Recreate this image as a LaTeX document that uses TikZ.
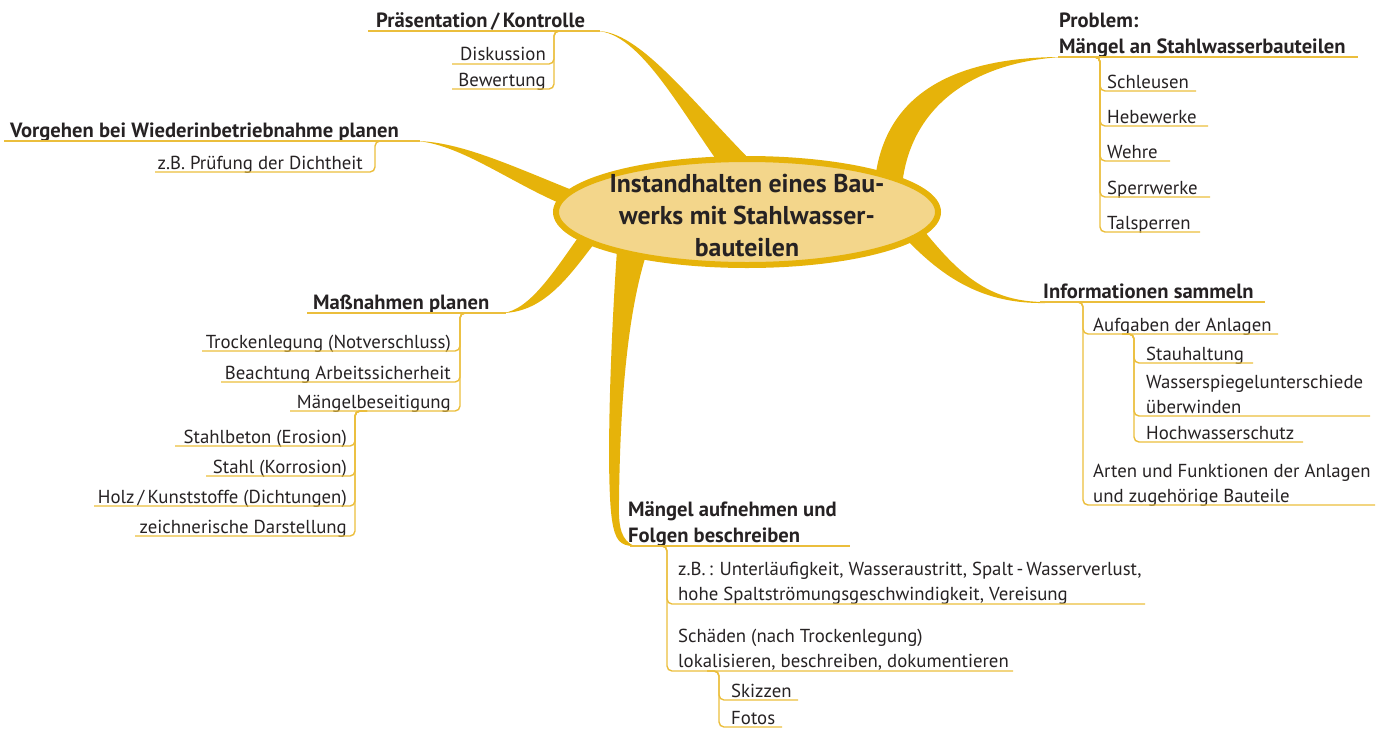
\documentclass[tikz,border=0pt]{standalone}
\usepackage{fontspec}
\newfontfamily\mapfont{PT Sans}
\definecolor{limb}{HTML}{E6B30A}
\definecolor{corefill}{HTML}{F3D68B}
\definecolor{twig}{HTML}{EBBE3C}
\definecolor{ink}{HTML}{262223}
\newcommand\leaffont{\mapfont\fontsize{18.8}{25}\selectfont}
\newcommand\headfont{\mapfont\bfseries\fontsize{20.6}{25}\selectfont}
\newcommand\corefont{\mapfont\bfseries\fontsize{25.8}{32}\selectfont}
\tikzset{
  twig/.style={draw=twig, line width=1.4pt, rounded corners=5pt},
  limb/.style={fill=limb, draw=none},
  leaf/.style={font=\leaffont, text=ink, inner sep=0pt},
  head/.style={font=\headfont, text=ink, inner sep=0pt},
}
\begin{document}
\begin{tikzpicture}[x=1pt, y=-1pt]
\useasboundingbox (0,0) rectangle (1381,729);

% ---------- tapered main branches ----------
% Praesentation / Kontrolle
\fill[limb] (597,31) .. controls (640,31) and (690,100) .. (760,170)
  -- (725,172) .. controls (680,110) and (640,33) .. (597,31) -- cycle;
% Vorgehen bei Wiederinbetriebnahme
\fill[limb] (417,141) .. controls (460,142) and (510,165) .. (572,190)
  -- (577,210) .. controls (520,190) and (465,145) .. (417,141) -- cycle;
% Massnahmen planen
\fill[limb] (503,313) .. controls (530,310) and (555,270) .. (582,232)
  -- (597,240) .. controls (570,275) and (545,312) .. (503,313) -- cycle;
% Maengel aufnehmen
\fill[limb] (617,250) .. controls (610,350) and (606,480) .. (612,520)
  .. controls (615,540) and (620,546) .. (634,546)
  .. controls (622,540) and (618,530) .. (619,500)
  .. controls (620,420) and (625,320) .. (647,252) -- cycle;
% Problem
\fill[limb] (875,180) .. controls (885,90) and (960,57) .. (1062,57)
  .. controls (975,62) and (910,105) .. (902,186) -- cycle;
% Informationen sammeln
\fill[limb] (925,232) .. controls (960,275) and (990,302) .. (1045,302)
  -- (1045,303) .. controls (985,304) and (945,280) .. (905,238) -- cycle;

% ---------- centre ----------
\fill[corefill, draw=limb, line width=6pt] (747,212) ellipse [x radius=191, y radius=53];
\node[font=\corefont, text=ink, align=center, inner sep=0pt] (core) at (747,216)
  {Instandhalten eines Bau-\\werks mit Stahlwasser-\\bauteilen};

% ---------- Praesentation / Kontrolle ----------
\node[head, anchor=base west] (praes) at (376,27) {Präsentation\,/\,Kontrolle};
\draw[twig] (368,31) -- (600,31);
\node[leaf, anchor=base east] (disk) at (546,60) {Diskussion};
\node[leaf, anchor=base east] (bew) at (546,86) {Bewertung};
\draw[twig] (452,64) -- (554,64) -- (554,31) -- (566,31);
\draw[twig] (452,89) -- (554,89) -- (554,31) -- (566,31);

% ---------- Vorgehen bei Wiederinbetriebnahme planen ----------
\node[head, anchor=base west] (vorg) at (10,137) {Vorgehen bei Wiederinbetriebnahme planen};
\draw[twig] (4,141) -- (420,141);
\node[leaf, anchor=base east] (pruef) at (363,169) {z.B. Prüfung der Dichtheit};
\draw[twig] (155,172) -- (375,172) -- (375,141) -- (388,141);

% ---------- Massnahmen planen ----------
\node[head, anchor=base west] (mass) at (313,309) {Maßnahmen planen};
\draw[twig] (307,313) -- (506,313);
\node[leaf, anchor=base east] (trock) at (451,348) {Trockenlegung (Notverschluss)};
\node[leaf, anchor=base east] (arbeit) at (451,379) {Beachtung Arbeitssicherheit};
\node[leaf, anchor=base east] (beseit) at (451,408) {Mängelbeseitigung};
\draw[twig] (202,351) -- (460,351) -- (460,313) -- (472,313);
\draw[twig] (221,382) -- (460,382) -- (460,313) -- (472,313);
\draw[twig] (290,411) -- (460,411) -- (460,313) -- (472,313);
\node[leaf, anchor=base east] (beton) at (347,443) {Stahlbeton (Erosion)};
\node[leaf, anchor=base east] (stahl) at (347,473) {Stahl (Korrosion)};
\node[leaf, anchor=base east] (holz) at (347,503) {Holz\,/\,Kunststoffe (Dichtungen)};
\node[leaf, anchor=base east] (zeich) at (347,533) {zeichnerische Darstellung};
\draw[twig] (175,446) -- (355,446) -- (355,411) -- (367,411);
\draw[twig] (206,476) -- (355,476) -- (355,411) -- (367,411);
\draw[twig] (94,506) -- (355,506) -- (355,411) -- (367,411);
\draw[twig] (135,536) -- (355,536) -- (355,411) -- (367,411);

% ---------- Maengel aufnehmen und Folgen beschreiben ----------
\node[head, anchor=base west] (aufn1) at (628,516) {Mängel aufnehmen und};
\node[head, anchor=base west] (aufn2) at (628,542) {Folgen beschreiben};
\draw[twig] (630,546) -- (850,546);
\node[leaf, anchor=base west] (zb1) at (678,575) {z.B.\,: Unterläufigkeit, Wasseraustritt, Spalt\,-\,Wasserverlust,};
\node[leaf, anchor=base west] (zb2) at (678,600) {hohe Spaltströmungsgeschwindigkeit, Vereisung};
\node[leaf, anchor=base west] (sch1) at (678,642) {Schäden (nach Trockenlegung)};
\node[leaf, anchor=base west] (sch2) at (678,667) {lokalisieren, beschreiben, dokumentieren};
\draw[twig] (655,546) -- (667,546) -- (667,604) -- (1145,604);
\draw[twig] (655,546) -- (667,546) -- (667,671) -- (1013,671);
\node[leaf, anchor=base west] (skiz) at (731,697) {Skizzen};
\node[leaf, anchor=base west] (foto) at (731,724) {Fotos};
\draw[twig] (707,671) -- (719,671) -- (719,700) -- (798,700);
\draw[twig] (707,671) -- (719,671) -- (719,727) -- (782,727);

% ---------- Problem ----------
\node[head, anchor=base west] (prob1) at (1059,27) {Problem:};
\node[head, anchor=base west] (prob2) at (1059,53) {Mängel an Stahlwasserbauteilen};
\draw[twig] (1058,57) -- (1358,57);
\node[leaf, anchor=base west] (schl) at (1107,88) {Schleusen};
\node[leaf, anchor=base west] (hebe) at (1107,123) {Hebewerke};
\node[leaf, anchor=base west] (wehr) at (1107,158) {Wehre};
\node[leaf, anchor=base west] (sperr) at (1107,194) {Sperrwerke};
\node[leaf, anchor=base west] (tal) at (1107,229) {Talsperren};
\draw[twig] (1088,57) -- (1100,57) -- (1100,91) -- (1196,91);
\draw[twig] (1088,57) -- (1100,57) -- (1100,126) -- (1208,126);
\draw[twig] (1088,57) -- (1100,57) -- (1100,161) -- (1170,161);
\draw[twig] (1088,57) -- (1100,57) -- (1100,197) -- (1210,197);
\draw[twig] (1088,57) -- (1100,57) -- (1100,232) -- (1200,232);

% ---------- Informationen sammeln ----------
\node[head, anchor=base west] (info) at (1043,298) {Informationen sammeln};
\draw[twig] (1040,302) -- (1265,302);
\node[leaf, anchor=base west] (aufg) at (1093,331) {Aufgaben der Anlagen};
\node[leaf, anchor=base west] (arten1) at (1093,477) {Arten und Funktionen der Anlagen};
\node[leaf, anchor=base west] (arten2) at (1093,502) {und zugehörige Bauteile};
\draw[twig] (1071,302) -- (1083,302) -- (1083,334) -- (1278,334);
\draw[twig] (1071,302) -- (1083,302) -- (1083,505) -- (1375,505);
\node[leaf, anchor=base west] (stau) at (1146,360) {Stauhaltung};
\node[leaf, anchor=base west] (wsp1) at (1146,388) {Wasserspiegelunterschiede};
\node[leaf, anchor=base west] (wsp2) at (1146,413) {überwinden};
\node[leaf, anchor=base west] (hoch) at (1146,439) {Hochwasserschutz};
\draw[twig] (1122,334) -- (1134,334) -- (1134,363) -- (1253,363);
\draw[twig] (1122,334) -- (1134,334) -- (1134,416) -- (1370,416);
\draw[twig] (1122,334) -- (1134,334) -- (1134,442) -- (1303,442);
\end{tikzpicture}
\end{document}
